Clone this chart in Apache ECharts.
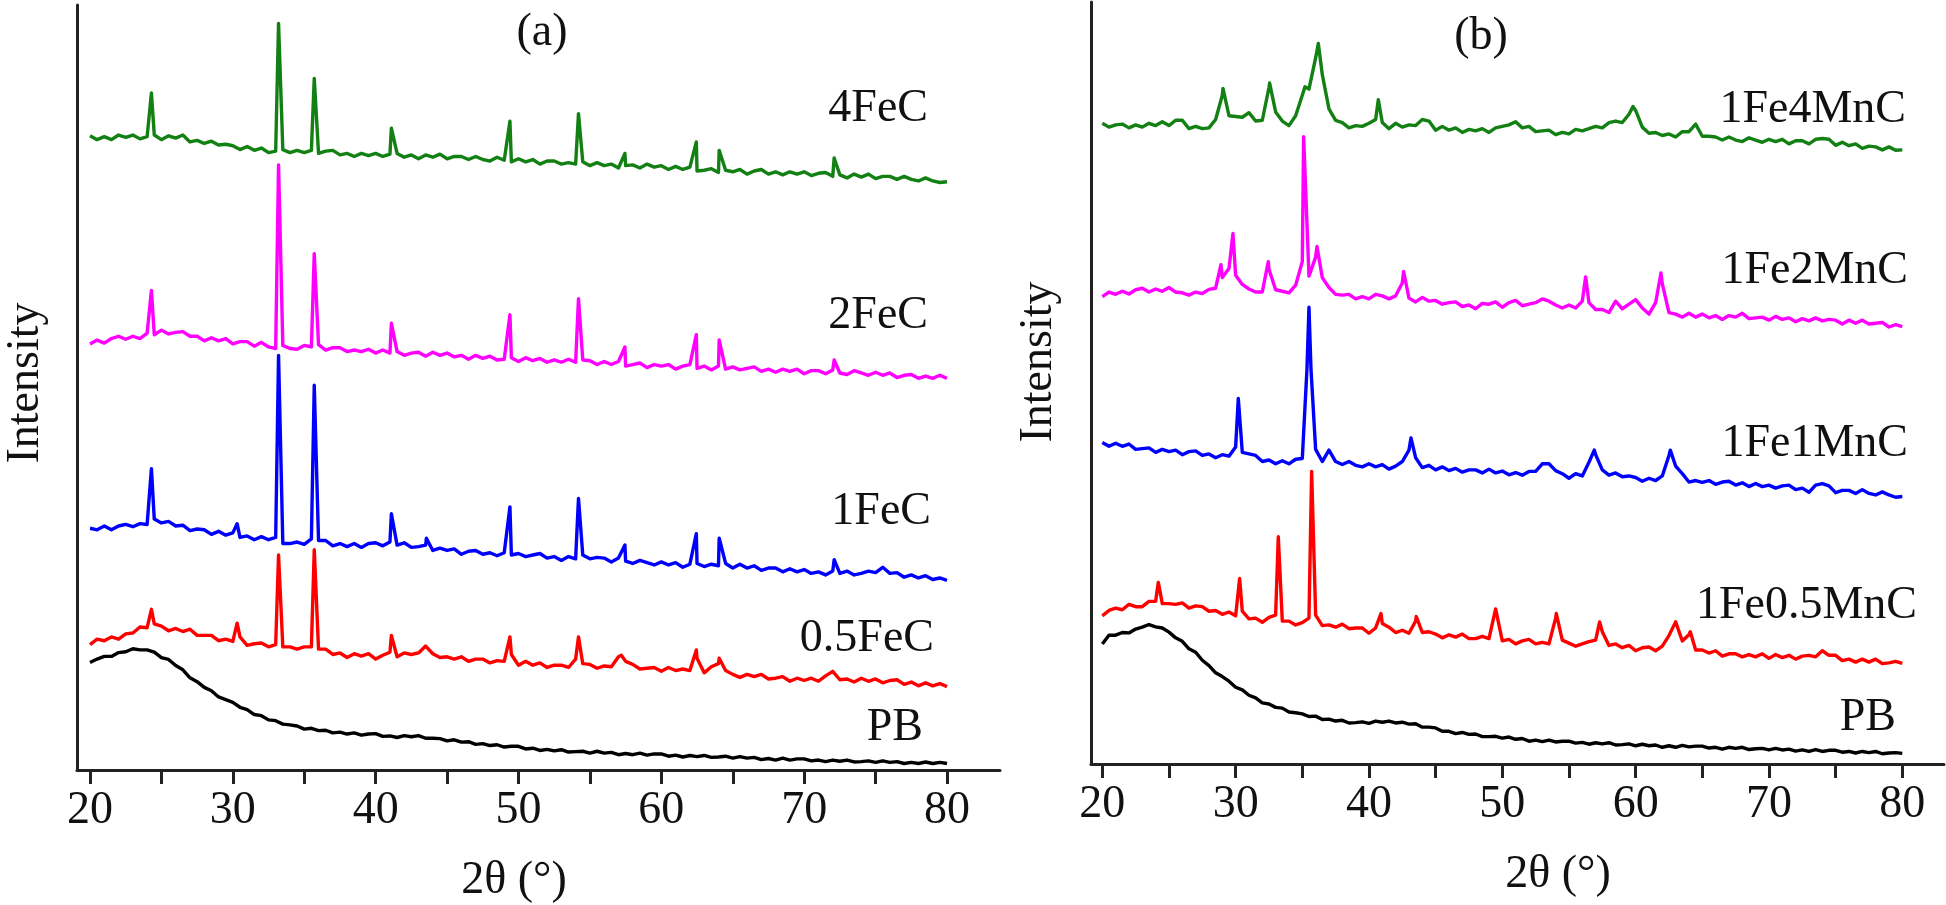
<!DOCTYPE html>
<html>
<head>
<meta charset="utf-8">
<script src="https://cdn.jsdelivr.net/npm/echarts@6/dist/echarts.min.js"></script>
<style>
html,body{margin:0;padding:0;background:#fff;}
#chart{width:1946px;height:905px;}
</style>
</head>
<body>
<div id="chart"></div>
<script>
// 2θ sampling grid (degrees), 0.5° steps from 20 to 80
const theta = Array.from({length: 121}, (_, i) => 20 + i * 0.5);
const xTicksMin = 20, xTicksMax = 80, xTickStep = 5;

// ---------- Panel (a) : stacked intensities (a.u.) ----------
const fe4 = [
82.9,82.4,82.8,82.4,83.0,82.7,83.0,82.5,82.8,83.0,
82.4,82.9,82.6,83.0,82.1,82.3,81.9,82.2,81.7,81.8,
81.6,81.1,81.5,81.0,81.3,80.7,80.9,81.1,80.7,81.0,
80.7,81.0,80.6,80.9,81.0,80.4,80.6,80.2,80.6,80.3,
80.6,80.2,80.5,80.6,80.1,80.4,79.9,80.4,80.1,80.5,
79.9,80.2,80.2,79.8,80.2,79.8,79.6,80.1,79.7,79.5,
79.9,79.5,79.8,79.2,79.6,79.6,79.2,79.4,79.2,79.5,
79.0,79.4,79.0,79.2,78.7,79.0,79.1,78.7,79.2,78.8,
79.0,78.5,78.9,78.5,78.8,78.3,78.4,78.6,78.1,78.4,
78.2,78.5,77.9,78.3,78.5,77.9,78.2,77.8,78.2,77.9,
78.2,77.7,78.0,78.1,77.6,77.8,77.4,77.9,77.5,77.9,
77.3,77.6,77.6,77.2,77.6,77.2,77.0,77.4,77.0,76.8,
76.9];
const fe4Peaks = [[24.3,88.5],[33.2,97.6],[35.7,90.4],[41.1,83.9],[49.4,84.8],[54.2,85.8],[57.45,80.6],[62.45,82.1],[64.05,81.0],[72.1,80.0]];

const fe2 = [
55.7,56.2,55.8,56.4,56.7,56.3,56.7,56.4,57.1,56.9,
57.5,57.0,57.2,57.3,56.7,56.7,56.1,56.5,56.1,56.4,
55.7,56.0,56.0,55.4,55.9,55.3,55.1,55.5,55.1,55.0,
55.5,55.3,55.6,54.9,55.2,55.2,54.7,54.9,54.7,55.0,
54.5,54.9,54.5,54.7,54.2,54.5,54.6,54.1,54.6,54.2,
54.5,54.0,54.2,53.7,54.2,53.8,54.1,53.6,53.7,53.9,
53.4,53.9,53.5,53.8,53.3,53.6,53.3,53.7,53.3,53.6,
53.5,53.0,53.4,53.0,53.4,52.8,53.0,53.2,52.6,53.0,
52.8,53.0,52.4,52.8,53.0,52.5,52.8,52.3,52.8,52.4,
52.7,52.3,52.5,52.7,52.1,52.4,52.0,52.4,52.1,52.4,
51.8,52.2,52.2,51.8,52.3,51.9,51.7,52.2,51.9,51.6,
52.0,51.6,51.9,51.3,51.6,51.7,51.2,51.5,51.2,51.6,
51.2];
const fe2Peaks = [[24.3,62.7],[33.2,79.1],[35.7,67.5],[41.1,58.4],[49.4,59.5],[54.2,61.6],[57.45,55.3],[62.45,56.9],[64.05,56.2],[72.1,53.6]];

const fe1 = [
31.6,31.4,31.9,31.4,31.9,32.1,31.8,32.2,32.1,32.8,
32.3,32.5,31.9,32.0,31.3,31.5,31.4,30.8,31.2,30.7,
31.0,30.4,30.6,30.1,30.5,30.1,30.4,29.6,29.6,29.8,
29.5,30.2,30.0,30.0,29.3,29.6,29.2,29.6,29.1,29.6,
29.7,29.3,29.8,29.4,29.7,29.1,29.2,29.4,28.7,29.0,
28.7,28.9,28.2,28.6,28.7,28.2,28.4,28.0,28.4,28.1,
28.3,27.9,28.1,28.3,27.7,27.9,27.4,27.9,27.6,28.1,
27.6,27.8,27.7,27.2,27.7,27.3,27.0,27.4,27.1,26.8,
27.2,26.8,27.1,26.5,26.9,27.0,26.6,26.9,26.7,27.0,
26.4,26.9,26.4,26.7,26.1,26.4,26.4,25.9,26.3,25.9,
26.2,25.7,25.9,25.5,26.0,25.7,26.0,25.5,25.7,26.0,
25.8,26.5,25.7,25.8,25.2,25.5,25.1,25.4,24.9,25.1,
24.8];
const fe1Peaks = [[24.3,39.4],[30.3,32.2],[33.2,54.2],[35.7,50.3],[41.1,33.5],[43.55,30.3],[49.4,34.4],[54.2,35.5],[57.45,29.4],[62.45,30.9],[64.05,30.3],[72.1,27.5]];

const fe05 = [
16.4,17.1,16.9,17.4,17.1,17.8,17.9,18.7,18.6,19.1,
18.8,18.2,18.5,18.1,18.4,17.6,17.6,17.6,16.9,17.1,
16.8,17.4,16.3,16.5,16.6,16.1,16.4,16.1,16.1,15.8,
16.1,16.1,15.8,15.8,15.1,15.3,14.7,15.2,14.9,15.2,
14.5,15.0,15.4,14.8,15.3,15.1,15.3,16.2,15.2,14.7,
14.8,14.5,14.8,14.2,14.5,14.5,14.0,14.3,14.2,15.1,
13.7,14.2,13.7,14.0,13.4,13.7,13.7,13.4,14.5,13.9,
13.8,13.3,13.6,13.5,14.8,14.2,13.8,13.2,13.3,13.4,
12.9,13.4,13.0,13.2,13.0,14.6,12.7,13.5,13.9,13.0,
12.5,12.1,12.5,12.2,12.5,11.9,12.0,12.2,11.6,12.0,
11.7,12.0,11.6,12.3,12.9,11.8,11.9,11.5,12.0,11.6,
11.9,11.4,11.7,11.8,11.2,11.5,11.0,11.4,11.0,11.3,
10.9];
const fe05Peaks = [[24.3,21.0],[30.3,19.2],[33.2,28.1],[35.7,28.8],[41.1,17.6],[49.4,17.4],[54.2,17.4],[57.2,15.0],[62.45,15.7],[64.05,14.6],[72.1,12.85]];

const pbA = [
14.05,14.5,14.85,14.85,15.35,15.45,15.85,15.7,15.7,15.4,
14.7,14.45,13.65,13.1,12.05,11.55,10.8,10.35,9.55,9.2,
8.85,8.2,7.9,7.25,7.1,6.55,6.45,6.0,5.9,5.75,
5.35,5.45,5.15,5.2,4.85,4.95,4.7,4.85,4.55,4.7,
4.75,4.4,4.45,4.25,4.5,4.35,4.5,4.15,4.15,4.1,
3.8,3.95,3.65,3.7,3.35,3.45,3.2,3.3,3.0,3.1,
3.1,2.75,2.85,2.55,2.7,2.5,2.65,2.35,2.4,2.45,
2.2,2.45,2.2,2.3,2.0,2.15,2.0,2.2,1.95,2.1,
2.1,1.8,1.95,1.7,1.9,1.75,1.9,1.65,1.7,1.8,
1.55,1.75,1.55,1.65,1.35,1.5,1.3,1.55,1.3,1.45,
1.45,1.2,1.3,1.1,1.3,1.15,1.3,1.05,1.1,1.2,
1.0,1.2,1.0,1.1,0.85,1.0,0.85,1.05,0.85,1.0,
0.85];

// ---------- Panel (b) ----------
const mn4 = [
84.3,83.8,84.1,84.2,83.7,84.1,83.8,84.3,84.0,84.5,
84.0,84.7,84.7,83.6,83.9,83.6,83.7,84.8,88.0,85.3,
85.2,85.1,85.7,84.6,84.7,89.0,85.8,84.6,84.0,85.3,
88.0,88.8,92.9,90.7,86.2,84.7,84.4,83.7,84.0,83.9,
84.3,84.8,84.4,83.6,84.3,83.8,84.1,84.0,84.8,84.6,
83.4,83.9,83.4,83.7,83.1,83.5,83.3,83.6,83.1,83.7,
83.9,84.1,84.5,83.7,83.9,83.2,83.3,83.4,82.8,83.1,
82.9,83.5,83.3,83.6,83.9,83.7,84.4,84.6,84.4,85.5,
86.0,83.8,83.0,83.1,82.7,82.9,82.5,83.2,83.2,84.2,
82.6,82.6,82.5,82.1,82.5,82.1,81.9,82.4,82.1,81.8,
82.2,81.9,82.2,81.6,82.0,82.0,81.6,82.2,82.3,82.2,
81.4,81.8,81.35,81.6,81.0,81.3,81.2,80.8,81.2,80.75,
80.8];
const mn4Peaks = [[29.05,88.9],[32.55,89.6],[35.2,89.1],[36.2,94.8],[40.7,87.4],[59.8,86.5]];

const mn2 = [
61.5,62.1,61.8,62.2,61.85,62.4,62.6,62.1,62.5,62.2,
62.7,62.1,62.0,61.7,62.1,61.9,62.45,62.6,64.0,65.2,
64.3,63.1,62.5,62.1,62.1,65.1,62.4,62.2,62.0,63.0,
66.1,64.2,66.7,64.0,62.7,61.8,61.7,61.8,61.2,61.5,
61.2,61.8,61.6,61.2,61.6,63.3,61.3,60.8,61.4,60.9,
61.0,60.5,60.7,60.8,60.2,60.4,59.9,60.6,60.5,60.8,
60.1,60.7,61.0,60.3,60.5,60.7,61.2,60.9,60.4,60.0,
60.4,60.0,60.9,60.7,59.8,59.8,59.4,60.9,59.9,60.5,
61.1,60.0,59.2,60.7,63.2,59.4,59.2,58.8,59.3,58.8,
59.2,58.7,59.0,58.5,59.0,58.8,59.3,58.6,58.7,58.8,
58.4,58.9,58.5,58.7,58.2,58.6,58.3,58.7,58.3,58.5,
58.4,57.9,58.4,58.0,58.4,57.9,58.0,58.1,57.5,57.8,
57.55];
const mn2Peaks = [[28.9,65.7],[29.8,69.8],[32.45,66.1],[35.1,82.55],[36.1,68.1],[42.6,64.8],[56.25,64.1],[61.9,64.6]];

const mn1 = [
42.3,41.8,42.2,41.8,42.1,41.4,41.5,41.6,41.0,41.4,
41.1,41.3,40.7,41.1,41.2,40.6,40.8,40.3,40.7,40.5,
41.7,41.0,40.8,40.6,39.8,40.0,39.5,39.9,39.5,40.1,
40.2,60.1,41.4,39.8,41.3,39.8,39.4,39.8,39.3,39.1,
39.5,39.1,39.4,38.8,39.2,39.8,41.3,40.3,39.0,39.3,
38.7,39.1,38.6,38.9,38.4,38.7,38.7,38.3,38.8,38.3,
38.55,38.05,38.35,38.0,38.5,38.5,39.5,39.5,38.6,38.2,
37.6,38.2,37.9,39.7,40.7,38.7,38.0,38.3,37.8,37.9,
37.7,37.2,37.6,37.3,37.9,40.6,39.2,38.2,37.1,37.3,
37.05,37.3,36.8,37.1,37.2,36.7,37.0,36.5,36.9,36.5,
36.7,36.3,36.6,36.7,36.1,36.3,35.75,36.7,36.9,36.6,
35.7,36.0,36.0,35.6,36.1,35.6,35.4,35.8,35.4,35.1,
35.2];
const mn1Peaks = [[30.2,48.1],[35.35,52.0],[35.65,52.0],[43.15,42.9],[56.9,41.3],[62.6,41.3]];

const mn05 = [
19.5,20.2,20.5,20.3,21.0,20.7,20.7,21.4,21.4,21.1,
21.1,21.0,21.2,20.5,20.8,20.7,20.1,20.2,19.7,20.0,
19.5,20.1,19.1,19.2,18.65,19.3,19.6,18.8,18.8,18.3,
18.6,19.2,19.6,18.2,18.3,18.0,18.4,17.8,17.9,17.9,
17.2,17.9,18.5,18.0,17.3,17.6,17.2,18.8,17.3,17.4,
17.1,16.6,17.0,16.7,17.1,16.5,16.5,16.8,16.5,20.4,
16.2,16.4,15.8,16.2,16.4,15.8,16.0,15.8,19.2,16.3,
15.9,15.5,15.8,16.1,16.3,17.4,15.6,15.8,15.3,15.6,
14.9,15.3,15.4,14.9,15.5,16.9,18.7,16.2,17.0,15.0,
15.0,14.6,14.9,14.2,14.5,14.5,14.1,14.4,14.1,14.5,
13.9,14.4,14.0,14.3,13.8,14.2,14.3,14.1,14.9,14.3,
14.3,13.6,13.8,13.4,13.8,13.4,13.8,13.2,13.3,13.5,
13.25];
const mn05Peaks = [[24.2,23.9],[30.3,24.4],[33.2,29.9],[35.7,38.5],[40.9,19.8],[43.55,19.4],[54.05,19.8],[57.3,18.7],[64.1,17.4]];

const pbB = [
15.8,16.95,16.95,17.3,17.25,17.75,18.0,18.35,18.05,17.9,
17.35,16.6,16.15,15.15,14.7,13.65,12.95,12.0,11.5,10.9,
10.1,9.75,9.05,8.7,8.05,7.9,7.45,7.35,6.85,6.75,
6.6,6.25,6.3,5.85,5.9,5.65,5.75,5.4,5.45,5.55,
5.35,5.65,5.5,5.65,5.4,5.5,5.25,5.3,4.85,4.85,
4.75,4.3,4.3,4.0,4.15,3.9,3.95,3.6,3.6,3.65,
3.4,3.55,3.25,3.35,3.0,3.15,2.95,3.15,2.9,3.0,
3.0,2.75,2.85,2.6,2.8,2.65,2.8,2.5,2.55,2.65,
2.4,2.6,2.4,2.5,2.2,2.4,2.2,2.45,2.25,2.35,
2.35,2.1,2.2,1.95,2.2,2.05,2.2,1.9,2.0,2.05,
1.85,2.05,1.85,1.95,1.7,1.85,1.65,1.9,1.65,1.8,
1.8,1.55,1.65,1.45,1.65,1.5,1.65,1.35,1.45,1.5,
1.4];

const namesA = ['4FeC', '2FeC', '1FeC', '0.5FeC', 'PB'];
const namesB = ['1Fe4MnC', '1Fe2MnC', '1Fe1MnC', '1Fe0.5MnC', 'PB'];
const colors = ['#138013', '#ff00ff', '#0000ff', '#ff0000', '#000000'];

// ---------- build point lists ----------
function merge(base, peaks) {
  const pts = base.map((v, i) => [theta[i], v]);
  (peaks || []).forEach(p => pts.push([p[0], p[1]]));
  pts.sort((a, b) => a[0] - b[0]);
  return pts;
}
const dataA = [merge(fe4, fe4Peaks), merge(fe2, fe2Peaks), merge(fe1, fe1Peaks), merge(fe05, fe05Peaks), merge(pbA, [])];
const dataB = [merge(mn4, mn4Peaks), merge(mn2, mn2Peaks), merge(mn1, mn1Peaks), merge(mn05, mn05Peaks), merge(pbB, [])];

// ---------- layout ----------
const FONT = '"Liberation Serif", "Times New Roman", serif';
const FS = 46;
const AX = '#222222';
const TXT = '#111111';
const labelPosA = [[928, 109], [928, 316], [931, 512], [934, 639], [923, 728]];
const labelPosB = [[1906, 110], [1908, 271], [1908, 444], [1917, 606], [1896, 718]];

const frameAxisX = (gi) => ({
  gridIndex: gi, type: 'value', min: 0, max: 1,
  axisLine: {show: true, onZero: false, lineStyle: {color: AX, width: 3}},
  axisTick: {show: false}, axisLabel: {show: false}, splitLine: {show: false}
});
const frameAxisY = (gi) => ({
  gridIndex: gi, type: 'value', min: 0, max: 1,
  axisLine: {show: true, onZero: false, lineStyle: {color: AX, width: 3}},
  axisTick: {show: false}, axisLabel: {show: false}, splitLine: {show: false}
});
const dataAxisX = (gi) => ({
  gridIndex: gi, type: 'value', min: xTicksMin, max: xTicksMax, interval: xTickStep,
  axisLine: {show: false, onZero: false},
  axisTick: {show: true, inside: false, length: 14, lineStyle: {color: AX, width: 3}},
  axisLabel: {
    show: true, margin: 18, color: TXT, fontFamily: FONT, fontSize: FS,
    formatter: v => (v % 10 === 0 ? String(v) : '')
  },
  splitLine: {show: false}
});
const dataAxisY = (gi) => ({gridIndex: gi, type: 'value', min: 0, max: 100, show: false});

const series = [];
dataA.forEach((d, k) => series.push({
  name: namesA[k] + ' (a)', type: 'line', xAxisIndex: 1, yAxisIndex: 1, data: d,
  showSymbol: false, symbol: 'none', lineStyle: {color: colors[k], width: 3.4, join: 'round'}, itemStyle: {color: colors[k]},
  animation: false, silent: true
}));
dataB.forEach((d, k) => series.push({
  name: namesB[k] + ' (b)', type: 'line', xAxisIndex: 3, yAxisIndex: 3, data: d,
  showSymbol: false, symbol: 'none', lineStyle: {color: colors[k], width: 3.4, join: 'round'}, itemStyle: {color: colors[k]},
  animation: false, silent: true
}));

function txt(str, x, y, align, rot) {
  return {
    type: 'text', x: x, y: y, rotation: rot || 0, silent: true,
    style: {
      text: str, fill: TXT, font: FS + 'px ' + FONT,
      textAlign: align, textVerticalAlign: 'middle', align: align, verticalAlign: 'middle'
    }
  };
}
const graphics = [];
namesA.forEach((n, k) => graphics.push(txt(n, labelPosA[k][0], labelPosA[k][1], 'right')));
namesB.forEach((n, k) => graphics.push(txt(n, labelPosB[k][0], labelPosB[k][1], 'right')));
graphics.push(txt('(a)', 542, 33, 'center'));
graphics.push(txt('(b)', 1481, 37, 'center'));
graphics.push(txt('2θ (°)', 514, 881, 'center'));
graphics.push(txt('2θ (°)', 1558, 875, 'center'));
graphics.push(txt('Intensity', 26, 383, 'center', Math.PI / 2));
graphics.push(txt('Intensity', 1039, 362, 'center', Math.PI / 2));

const chart = echarts.init(document.getElementById('chart'), null, {renderer: 'canvas'});
chart.setOption({
  animation: false,
  backgroundColor: '#ffffff',
  grid: [
    {left: 77, top: 5, width: 923, height: 765},
    {left: 90, top: 5, width: 857, height: 765},
    {left: 1091, top: 2, width: 853, height: 762},
    {left: 1102.3, top: 4, width: 800, height: 760}
  ],
  xAxis: [frameAxisX(0), dataAxisX(1), frameAxisX(2), dataAxisX(3)],
  yAxis: [frameAxisY(0), dataAxisY(1), frameAxisY(2), dataAxisY(3)],
  series: series,
  graphic: {elements: graphics}
});
</script>
</body>
</html>
